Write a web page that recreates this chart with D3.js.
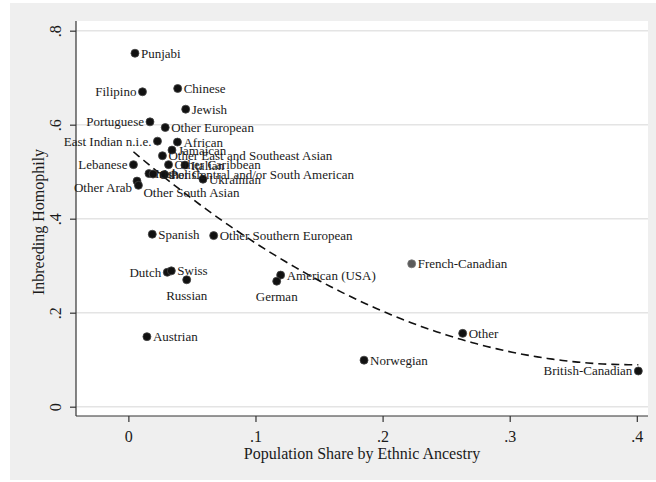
<!DOCTYPE html>
<html>
<head>
<meta charset="utf-8">
<script src="https://cdn.jsdelivr.net/npm/d3@7/dist/d3.min.js"></script>
<style>
  html, body { margin: 0; padding: 0; background: #ffffff; }
  svg { display: block; }
  text { font-family: "Liberation Serif", "Times New Roman", serif; fill: #1a1a1a; }
</style>
</head>
<body>
<svg id="chart" width="656" height="482"></svg>
<script>
// Ethnic groups, population share and inbreeding homophily
const groups = [
  "Punjabi", "Filipino", "Chinese", "Jewish", "Portuguese", "Other European",
  "East Indian n.i.e.", "African", "Jamaican", "Other East and Southeast Asian",
  "Lebanese", "Other Caribbean", "Italian", "Irish",
  "Other Central and/or South American", "Polish", "Ukrainian", "Other Arab",
  "Other South Asian", "Spanish", "Other Southern European", "Dutch", "Swiss",
  "Russian", "Austrian", "American (USA)", "German", "French-Canadian", "Other",
  "Norwegian", "British-Canadian"
];
const popShare = [
  0.0052, 0.0111, 0.0388, 0.0451, 0.0170, 0.0290,
  0.0229, 0.0386, 0.0343, 0.0268,
  0.0040, 0.0316, 0.0445, 0.0162,
  0.0194, 0.0284, 0.0587, 0.0068,
  0.0079, 0.0188, 0.0671, 0.0306, 0.0338,
  0.0459, 0.0146, 0.1198, 0.1167, 0.2229, 0.2630,
  0.1854, 0.4012
];
const homophily = [
  0.752, 0.670, 0.677, 0.633, 0.606, 0.594,
  0.565, 0.563, 0.546, 0.534,
  0.515, 0.515, 0.514, 0.496,
  0.495, 0.494, 0.484, 0.480,
  0.471, 0.367, 0.364, 0.286, 0.289,
  0.270, 0.149, 0.280, 0.267, 0.304, 0.156,
  0.099, 0.076
];
// Label placement as clock positions (3 = right, 9 = left, 6 = below, 4 = below right, 8 = below left)
const labelPos = [
  3, 9, 3, 3, 9, 3,
  9, 3, 3, 3,
  9, 3, 3, 3,
  3, 3, 3, 8,
  4, 3, 3, 9, 3,
  6, 3, 3, 6, 3, 3,
  3, 9
];
const xTicks = [0, 0.1, 0.2, 0.3, 0.4];
const yTicks = [0, 0.2, 0.4, 0.6, 0.8];
const highlighted = "French-Canadian";

const svg = d3.select("#chart");
const W = 656, H = 482;
const plot = { left: 76, right: 648, top: 21, bottom: 416 };

const x = d3.scaleLinear().domain([-0.0412, 0.4088]).range([plot.left, plot.right]);
const y = d3.scaleLinear().domain([-0.0198, 0.8206]).range([plot.bottom, plot.top]);

const fmt = v => v === 0 ? "0" : String(v).replace(/^0/, "");

// background: graph region and white plot region
svg.append("rect").attr("width", W).attr("height", H).attr("fill", "#ffffff");
svg.append("rect").attr("x", 10).attr("y", 3).attr("width", W - 10).attr("height", H - 5)
  .attr("fill", "#efefef");
svg.append("rect")
  .attr("x", plot.left).attr("y", plot.top)
  .attr("width", plot.right - plot.left).attr("height", plot.bottom - plot.top)
  .attr("fill", "#ffffff");

// horizontal grid
svg.append("g").selectAll("line").data(yTicks).join("line")
  .attr("x1", plot.left).attr("x2", plot.right)
  .attr("y1", d => y(d)).attr("y2", d => y(d))
  .attr("stroke", "#e4e4e4").attr("stroke-width", 1.5);

// axes
const yAxis = svg.append("g")
  .attr("transform", `translate(${plot.left},0)`)
  .call(d3.axisLeft(y).tickValues(yTicks).tickFormat(fmt).tickSize(6).tickPadding(4));
yAxis.select(".domain").attr("stroke", "#333").attr("stroke-width", 1.2)
  .attr("d", `M0,${plot.top}V${plot.bottom}`);
yAxis.selectAll(".tick line").attr("stroke", "#333").attr("stroke-width", 1.2);
yAxis.selectAll(".tick text")
  .attr("font-size", 16)
  .attr("text-anchor", "middle")
  .attr("x", 0).attr("dy", 0)
  .attr("transform", "translate(-15,0) rotate(-90)")
  .attr("y", 0);

const xAxis = svg.append("g")
  .attr("transform", `translate(0,${plot.bottom})`)
  .call(d3.axisBottom(x).tickValues(xTicks).tickFormat(fmt).tickSize(6).tickPadding(5));
xAxis.select(".domain").attr("stroke", "#333").attr("stroke-width", 1.2)
  .attr("d", `M${plot.left},0H${plot.right}`);
xAxis.selectAll(".tick line").attr("stroke", "#333").attr("stroke-width", 1.2);
xAxis.selectAll(".tick text").attr("font-size", 16).attr("y", 26).attr("dy", 0);

// axis titles
svg.append("text")
  .attr("x", (plot.left + plot.right) / 2).attr("y", 459)
  .attr("text-anchor", "middle").attr("font-size", 16)
  .text("Population Share by Ethnic Ancestry");
svg.append("text")
  .attr("transform", `translate(44,222) rotate(-90)`)
  .attr("text-anchor", "middle").attr("font-size", 16)
  .text("Inbreeding Homophily");

// quadratic least-squares fit of homophily on population share
function quadFit(xs, ys) {
  const S = [0, 0, 0, 0, 0], T = [0, 0, 0];
  xs.forEach((xv, i) => {
    for (let k = 0; k < 5; k++) S[k] += Math.pow(xv, k);
    for (let k = 0; k < 3; k++) T[k] += ys[i] * Math.pow(xv, k);
  });
  const A = [[S[0], S[1], S[2], T[0]], [S[1], S[2], S[3], T[1]], [S[2], S[3], S[4], T[2]]];
  for (let c = 0; c < 3; c++) {
    for (let r = c + 1; r < 3; r++) {
      const f = A[r][c] / A[c][c];
      for (let k = c; k < 4; k++) A[r][k] -= f * A[c][k];
    }
  }
  const b = [0, 0, 0];
  for (let r = 2; r >= 0; r--) {
    let s = A[r][3];
    for (let k = r + 1; k < 3; k++) s -= A[r][k] * b[k];
    b[r] = s / A[r][r];
  }
  return b;
}
const coef = quadFit(popShare, homophily);
const [xmin, xmax] = d3.extent(popShare);
const fitX = d3.range(0, 101).map(i => xmin + (xmax - xmin) * i / 100);
svg.append("path")
  .datum(fitX)
  .attr("fill", "none").attr("stroke", "#111").attr("stroke-width", 1.6)
  .attr("stroke-dasharray", "8,5")
  .attr("d", d3.line().x(d => x(d)).y(d => y(coef[0] + coef[1] * d + coef[2] * d * d)));

// points
const data = groups.map((g, i) => ({ g, px: popShare[i], py: homophily[i], pos: labelPos[i] }));
svg.append("g").selectAll("circle").data(data).join("circle")
  .attr("cx", d => x(d.px)).attr("cy", d => y(d.py)).attr("r", 4)
  .attr("fill", d => d.g === highlighted ? "#5a5a5a" : "#111")
  .attr("stroke", d => d.g === highlighted ? "#777" : "#444").attr("stroke-width", 0.8);

// labels
const off = {
  3: { dx: 6, dy: 4.5, anchor: "start" },
  9: { dx: -6, dy: 4.5, anchor: "end" },
  6: { dx: 0, dy: 20, anchor: "middle" },
  4: { dx: 5, dy: 11.5, anchor: "start" },
  8: { dx: -5, dy: 10.5, anchor: "end" }
};
svg.append("g").selectAll("text").data(data).join("text")
  .attr("x", d => x(d.px) + off[d.pos].dx)
  .attr("y", d => y(d.py) + off[d.pos].dy)
  .attr("text-anchor", d => off[d.pos].anchor)
  .attr("font-size", 13)
  .text(d => d.g);
</script>
</body>
</html>
